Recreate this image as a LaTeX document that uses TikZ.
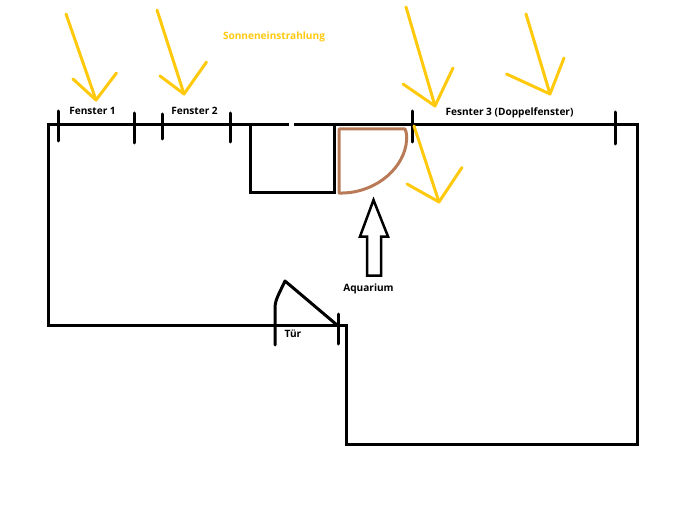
\documentclass[tikz,border=0pt]{standalone}
\usepackage{fontspec}
\setmainfont{Open Sans}
\usepackage{xcolor}
\definecolor{sunyellow}{HTML}{FFC90E}
\definecolor{tankbrown}{HTML}{B97A57}

\begin{document}
\begin{tikzpicture}[
    x=1pt,
    y=-1pt,
    wall/.style={draw=black, line width=3pt},
    tick/.style={draw=black, line width=3pt, line cap=round},
    ray/.style={draw=sunyellow, line width=3pt, line cap=round, line join=round},
    caption/.style={font=\fontsize{10.1}{12}\selectfont\bfseries, text=black, inner sep=0pt},
    ]
    \useasboundingbox (0,0) rectangle (700,513);

    \draw[wall, line join=miter] (288.5,124.5) -- (48,124.5) -- (48,325) -- (346,325) -- (346,444) -- (637,444) -- (637,124.5) -- (294,124.5);
    \draw[wall, line join=miter] (250,124.5) -- (250,192.5) -- (334.5,192.5) -- (334.5,124.5);

    \draw[tick] (58,111) -- (58,141);
    \draw[tick] (134,113) -- (134,143);
    \draw[tick] (162,114) -- (162,139);
    \draw[tick] (230,113) -- (230,142);
    \draw[tick] (412,111) -- (412,142);
    \draw[tick] (615.5,112) -- (615.5,144);
    \draw[tick] (338,314) -- (338,344);

    \draw[draw=tankbrown, line width=3pt, line join=round] (339,129) -- (405,129)
        .. controls (407,133) and (407,138) .. (406,145)
        .. controls (401,172) and (372,194) .. (339,193) -- cycle;

    \draw[draw=black, line width=2.5pt, line join=miter] (373.5,200) -- (388,236.5) -- (381,236.5) -- (381,275.5) -- (367,275.5) -- (367,236.5) -- (360,236.5) -- cycle;

    \draw[tick, line join=round] (275,345) -- (275,307)
        .. controls (275.5,299) and (279,294) .. (285,281) -- (337,325);

    \draw[ray] (66,14) -- (96,100);
    \draw[ray] (73,79) -- (96,100) -- (116.5,73);
    \draw[ray] (157,10) -- (184,94);
    \draw[ray] (160,76) -- (184,94) -- (206.5,62);
    \draw[ray] (406,7) -- (435,106);
    \draw[ray] (403,84) -- (435,106) -- (453,68);
    \draw[ray] (414,126) -- (439,202);
    \draw[ray] (407,184) -- (439,202) -- (462,167.5);
    \draw[ray] (526,14) -- (550,94);
    \draw[ray] (506.5,74) -- (550,94) -- (564,58);

    \node[caption] (fenstera) at (92.5,111) {Fenster 1};
    \node[caption] (fensterb) at (194.5,111) {Fenster 2};
    \node[caption] (fensterc) at (509.5,112.5) {Fesnter 3 (Doppelfenster)};
    \node[caption, text=sunyellow] (sonne) at (274,36.5) {Sonneneinstrahlung};
    \node[caption] (aquarium) at (368.5,289) {Aquarium};
    \node[caption] (tuer) at (293,334) {Tür};
\end{tikzpicture}
\end{document}
